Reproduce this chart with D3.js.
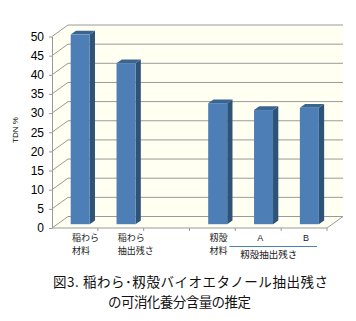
<!DOCTYPE html>
<html>
<head>
<meta charset="utf-8">
<script src="https://cdn.jsdelivr.net/npm/d3@7"></script>
<style>
    body { margin: 0; background: #fff; }
    text { font-family: "Noto Sans CJK JP", sans-serif; }
</style>
</head>
<body>
<div id="chart"></div>
<script>
const categories = ["稲わら\n材料", "稲わら\n抽出残さ", "", "籾殻\n材料", "A", "B"];
const tdnValues  = [49.5, 42.0, null, 31.6, 29.8, 30.4];
const yTicks     = [0, 5, 10, 15, 20, 25, 30, 35, 40, 45, 50];
const groupLabel = "籾殻抽出残さ";
const groupMembers = ["A", "B"];
const yLabel = "TDN %";
const titleLines = ["図3. 稲わら･籾殻バイオエタノール抽出残さ", "の可消化養分含量の推定"];

const data = categories.map((c, i) => ({ cat: c, value: tdnValues[i] }));

const width = 356;
const height = 321;

// depth vector of the 3D box, bar sits between front/back fractions
const depth = { dx: 16, dy: -11.5 };
const barFront = 0.33;
const barBack = 0.66;

const svg = d3.select("#chart")
    .append("svg")
    .attr("width", width)
    .attr("height", height);

const xScale = d3.scaleBand()
    .domain(categories)
    .range([52, 327])
    .padding(0);

const yScale = d3.scaleLinear()
    .domain([0, 50])
    .range([228, 36.5]);

const x0 = xScale.range()[0];
const x1 = xScale.range()[1];
const yBottom = yScale(0);
const yTop = yScale(50);

const cream = "#fffff2";
const gridColor = "#9a9a9a";

//walls
const wall = svg.append("g");

wall.append("polygon")
    .attr("points", [
        [x0 + depth.dx, yTop + depth.dy],
        [x1 + depth.dx, yTop + depth.dy],
        [x1 + depth.dx, yBottom + depth.dy],
        [x0 + depth.dx, yBottom + depth.dy]
    ].join(" "))
    .attr("fill", cream);

wall.append("polygon")
    .attr("points", [
        [x0, yTop],
        [x0 + depth.dx, yTop + depth.dy],
        [x0 + depth.dx, yBottom + depth.dy],
        [x0, yBottom]
    ].join(" "))
    .attr("fill", cream);

wall.append("polygon")
    .attr("points", [
        [x0, yBottom],
        [x0 + depth.dx, yBottom + depth.dy],
        [x1 + depth.dx, yBottom + depth.dy],
        [x1, yBottom]
    ].join(" "))
    .attr("fill", cream);

//gridlines (left wall diagonal + back wall)
wall.selectAll(".grid")
    .data(yTicks)
    .join("polyline")
        .attr("class", "grid")
        .attr("points", d => [
            [x0, yScale(d)],
            [x0 + depth.dx, yScale(d) + depth.dy],
            [x1 + depth.dx, yScale(d) + depth.dy]
        ].join(" "))
        .attr("fill", "none")
        .attr("stroke", gridColor)
        .attr("stroke-width", 1);

//floor edges
wall.append("polyline")
    .attr("points", [
        [x0, yBottom],
        [x1, yBottom],
        [x1 + depth.dx, yBottom + depth.dy]
    ].join(" "))
    .attr("fill", "none")
    .attr("stroke", gridColor);

//Y axis
const leftAxis = d3.axisLeft(yScale)
    .tickValues(yTicks)
    .tickSize(3)
    .tickSizeOuter(0);

const axisY = svg.append("g")
    .attr("class", "axis-y")
    .attr("transform", `translate(${x0}, 0)`)
    .call(leftAxis);

axisY.selectAll("path, line").attr("stroke", gridColor);
axisY.selectAll("text")
    .attr("x", -8)
    .style("font-family", "Liberation Sans, Arial, sans-serif")
    .style("font-size", "12px")
    .attr("fill", "#000");

svg.append("text")
    .text(yLabel)
    .attr("transform", "translate(18, 130) rotate(-90)")
    .attr("text-anchor", "middle")
    .style("font-family", "Liberation Sans, Arial, sans-serif")
    .style("font-size", "8px")
    .attr("fill", "#000");

//X ticks at slot boundaries
svg.selectAll(".xtick")
    .data(categories)
    .join("line")
        .attr("class", "xtick")
        .attr("x1", d => xScale(d) + xScale.bandwidth())
        .attr("x2", d => xScale(d) + xScale.bandwidth())
        .attr("y1", yBottom)
        .attr("y2", yBottom + 3)
        .attr("stroke", gridColor);

//bars
const barW = 19;
const fdx = depth.dx * barFront, fdy = depth.dy * barFront;
const bdx = depth.dx * barBack,  bdy = depth.dy * barBack;

const bars = svg.selectAll(".bar")
    .data(data.filter(d => d.value !== null))
    .join("g")
        .attr("class", "bar");

const bx = d => xScale(d.cat) + (xScale.bandwidth() - barW) / 2;

// side face
bars.append("polygon")
    .attr("points", d => {
        const xr = bx(d) + barW;
        return [
            [xr + fdx, yScale(d.value) + fdy],
            [xr + bdx, yScale(d.value) + bdy],
            [xr + bdx, yBottom + bdy],
            [xr + fdx, yBottom + fdy]
        ].join(" ");
    })
    .attr("fill", "#2f5376");

// top face
bars.append("polygon")
    .attr("points", d => {
        const xl = bx(d);
        const yt = yScale(d.value);
        return [
            [xl + fdx, yt + fdy],
            [xl + bdx, yt + bdy],
            [xl + barW + bdx, yt + bdy],
            [xl + barW + fdx, yt + fdy]
        ].join(" ");
    })
    .attr("fill", "#3b6590");

// front face
bars.append("rect")
    .attr("x", d => bx(d) + fdx)
    .attr("y", d => yScale(d.value) + fdy)
    .attr("width", barW)
    .attr("height", d => yBottom - yScale(d.value))
    .attr("fill", "#4d7eb6");

//category labels
const catLabels = svg.selectAll(".cat")
    .data(categories.filter(c => c !== "" && !groupMembers.includes(c)))
    .join("text")
        .attr("class", "cat")
        .attr("x", d => xScale(d) + xScale.bandwidth() / 2 - 3)
        .attr("y", 241)
        .style("font-size", "9px")
        .attr("fill", "#222");

catLabels.selectAll("tspan")
    .data(d => d.split("\n").map(t => ({ t, parent: d })))
    .join("tspan")
        .attr("x", d => xScale(d.parent) + xScale.bandwidth() / 2 - 3)
        .attr("dy", (d, i) => i === 0 ? 0 : 13)
        .text(d => d.t);

svg.selectAll(".member")
    .data(groupMembers)
    .join("text")
        .attr("class", "member")
        .attr("x", d => xScale(d) + xScale.bandwidth() / 2 + 2)
        .attr("y", 241)
        .attr("text-anchor", "middle")
        .style("font-family", "Liberation Sans, Arial, sans-serif")
        .style("font-size", "9px")
        .attr("fill", "#222")
        .text(d => d);

const gx0 = xScale(groupMembers[0]) - 6;
const gx1 = xScale(groupMembers[1]) + xScale.bandwidth() - 10;

svg.append("line")
    .attr("x1", gx0)
    .attr("x2", gx1)
    .attr("y1", 246.5)
    .attr("y2", 246.5)
    .attr("stroke", "#4d7eb6")
    .attr("stroke-width", 1);

svg.append("text")
    .text(groupLabel)
    .attr("x", gx0 + 11)
    .attr("y", 258)
    .style("font-size", "9.5px")
    .attr("fill", "#222");

//title
const titleX = [53, 108];
const titleLen = [275, 143];

svg.selectAll(".title")
    .data(titleLines)
    .join("text")
        .attr("class", "title")
        .attr("x", (d, i) => titleX[i])
        .attr("y", (d, i) => 287 + i * 20)
        .attr("textLength", (d, i) => titleLen[i])
        .attr("lengthAdjust", "spacing")
        .style("font-size", "13.5px")
        .attr("fill", "#111")
        .text(d => d);
</script>
</body>
</html>
